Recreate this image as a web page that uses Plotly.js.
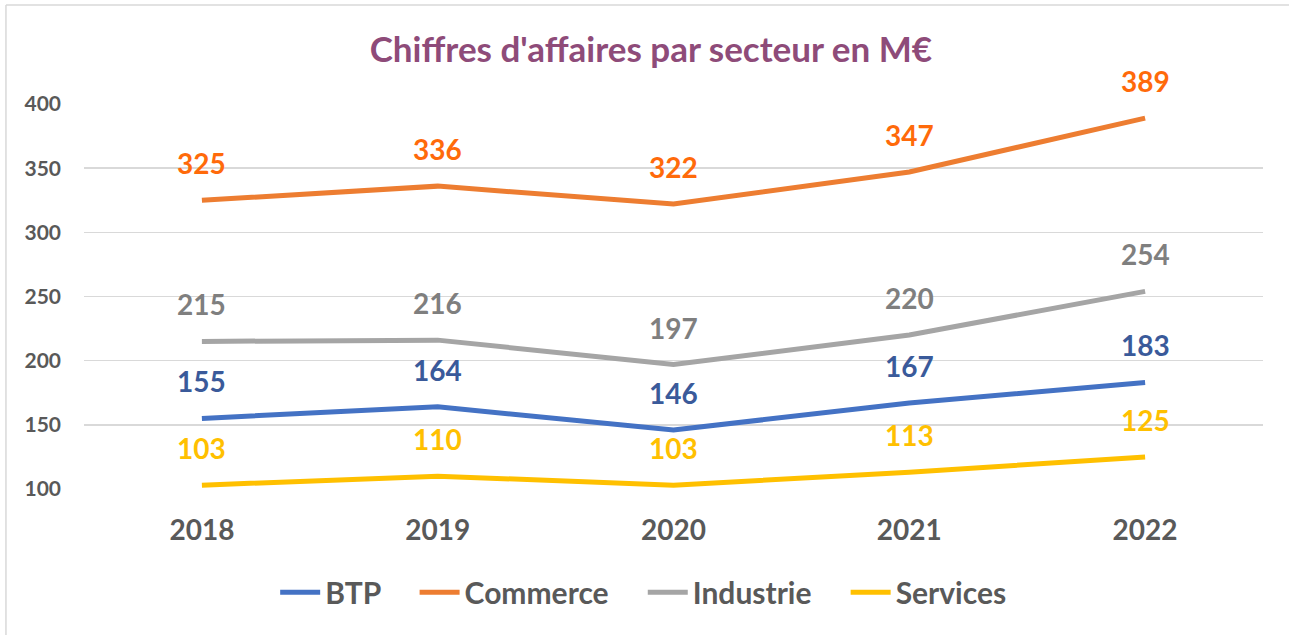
<!DOCTYPE html>
<html><head><meta charset="utf-8">
<script src="https://cdn.plot.ly/plotly-3.0.1.min.js"></script>
<style>html,body{margin:0;padding:0;background:#fff}#c{width:1289px;height:635px}</style>
</head><body><div id="c"></div>
<script>
const years = ['2018','2019','2020','2021','2022'];
const btp = [155,164,146,167,183];
const commerce = [325,336,322,347,389];
const industrie = [215,216,197,220,254];
const services = [103,110,103,113,125];

const series = [
  {name:'BTP', y:btp, line:'#4472C4', label:'#3A5A9A'},
  {name:'Commerce', y:commerce, line:'#ED7D31', label:'#FF6A0A'},
  {name:'Industrie', y:industrie, line:'#A5A5A5', label:'#7F7F7F'},
  {name:'Services', y:services, line:'#FFC000', label:'#FFC000'}
];
const F = 'Lato, "Open Sans", sans-serif';
const PAD = '\u00A0\u00A0\u00A0\u00A0';
const traces = series.map(s => ({
  type:'scatter', mode:'lines', name:s.name + PAD, x:years, y:s.y,
  line:{color:s.line, width:5}, hoverinfo:'skip'
}));
const annotations = [];
series.forEach(s => s.y.forEach((v,i) => annotations.push({
  x:i, y:v, xref:'x', yref:'y', text:String(v), showarrow:false,
  yshift:37, font:{family:F, size:28, color:s.label, weight:'bold'}
})));
const layout = {
  width:1289, height:635,
  margin:{l:84, r:26, t:104, b:146},
  paper_bgcolor:'#fff', plot_bgcolor:'#fff',
  title:{text:"Chiffres d'affaires par secteur en M€", x:0.505, xanchor:'center', y:0.921, yanchor:'middle',
    font:{family:F, size:35, color:'#8E4B79', weight:'bold'}},
  xaxis:{type:'category', range:[-0.5,4.5], autorange:false, showgrid:false, zeroline:false, showline:false, ticks:'',
    ticklabelstandoff:22,
    tickfont:{family:F, size:28, color:'#595959', weight:'bold'}, fixedrange:true},
  yaxis:{range:[100,400], autorange:false, tickvals:[100,150,200,250,300,350,400], showgrid:true, gridcolor:'#D9D9D9', gridwidth:1.5,
    zeroline:false, showline:false, ticks:'', ticklabelstandoff:22,
    tickfont:{family:F, size:21, color:'#595959', weight:'bold'}, fixedrange:true},
  showlegend:true,
  legend:{orientation:'h', x:0.487, xanchor:'center', y:-0.268, yanchor:'middle',
    font:{family:F, size:30, color:'#595959', weight:'bold'}, itemwidth:40, tracegroupgap:0},
  annotations:annotations,
  shapes:[
    {type:'line', xref:'paper', yref:'paper', x0:-0.0662, x1:1.03, y0:1.257, y1:1.257, line:{color:'#D9D9D9', width:1.5}},
    {type:'line', xref:'paper', yref:'paper', x0:-0.0662, x1:-0.0662, y0:1.257, y1:-0.4, line:{color:'#D9D9D9', width:1.5}}
  ]
};
Plotly.newPlot('c', traces, layout, {displayModeBar:false, staticPlot:true});
</script></body></html>
